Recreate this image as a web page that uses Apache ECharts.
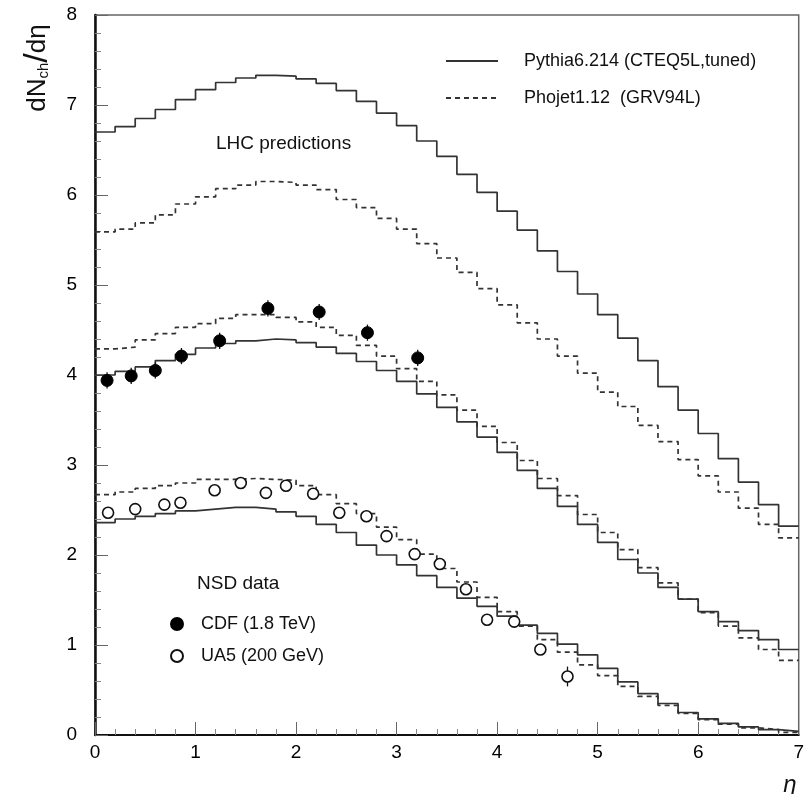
<!DOCTYPE html>
<html>
<head>
<meta charset="utf-8">
<script src="https://cdn.jsdelivr.net/npm/echarts@6/dist/echarts.min.js"></script>
<style>
html,body{margin:0;padding:0;background:#fff;}
#chart{width:807px;height:794px;}
</style>
</head>
<body>
<div id="chart"></div>
<script>
// bin edges in eta (bins of width 0.2)
const etaEdges = [0.0,0.2,0.4,0.6,0.8,1.0,1.2,1.4,1.6,1.8,2.0,2.2,2.4,2.6,2.8,3.0,3.2,3.4,3.6,3.8,4.0,4.2,4.4,4.6,4.8,5.0,5.2,5.4,5.6,5.8,6.0,6.2,6.4,6.6,6.8,7.0];

// LHC predictions
const pythiaLHC = [6.70,6.76,6.85,6.95,7.06,7.17,7.25,7.30,7.33,7.32,
                   7.29,7.24,7.16,7.04,6.91,6.77,6.60,6.43,6.23,6.03,
                   5.82,5.61,5.38,5.15,4.90,4.67,4.41,4.16,3.87,3.61,
                   3.35,3.07,2.81,2.56,2.32];
const phojetLHC = [5.59,5.62,5.69,5.78,5.90,5.98,6.07,6.11,6.15,6.14,
                   6.11,6.06,5.95,5.86,5.74,5.62,5.46,5.30,5.14,4.96,
                   4.78,4.58,4.40,4.21,4.02,3.81,3.65,3.44,3.26,3.06,
                   2.88,2.70,2.52,2.34,2.19];
// Tevatron 1.8 TeV
const pythiaTev = [4.00,4.04,4.09,4.16,4.23,4.30,4.35,4.38,4.40,4.39,
                   4.36,4.31,4.24,4.15,4.05,3.93,3.79,3.64,3.48,3.31,
                   3.14,2.94,2.74,2.54,2.34,2.14,1.95,1.80,1.64,1.51,
                   1.37,1.26,1.16,1.06,0.95];
const phojetTev = [4.29,4.31,4.39,4.46,4.53,4.57,4.63,4.67,4.67,4.64,
                   4.59,4.53,4.44,4.33,4.21,4.07,3.93,3.78,3.61,3.43,
                   3.25,3.05,2.85,2.66,2.45,2.25,2.06,1.86,1.69,1.51,
                   1.36,1.21,1.08,0.95,0.83];
// 200 GeV
const pythia200 = [2.36,2.40,2.43,2.46,2.49,2.51,2.53,2.53,2.51,2.48,
                   2.43,2.34,2.25,2.11,2.00,1.89,1.77,1.64,1.52,1.43,
                   1.32,1.22,1.13,1.01,0.89,0.74,0.59,0.46,0.35,0.25,
                   0.18,0.13,0.09,0.06,0.04];
const phojet200 = [2.67,2.70,2.74,2.77,2.80,2.84,2.84,2.85,2.84,2.83,
                   2.77,2.67,2.57,2.46,2.31,2.17,2.01,1.85,1.70,1.53,
                   1.37,1.21,1.06,0.92,0.78,0.66,0.54,0.43,0.33,0.24,
                   0.17,0.12,0.08,0.06,0.03];

// NSD data
const cdfEta = [0.12,0.36,0.60,0.86,1.24,1.72,2.23,2.71,3.21];
const cdfVal = [3.94,3.99,4.05,4.21,4.38,4.74,4.70,4.47,4.19];
const cdfErr = [0.09,0.09,0.09,0.09,0.09,0.09,0.09,0.09,0.09];

const ua5Eta = [0.13,0.40,0.69,0.85,1.19,1.45,1.70,1.90,2.17,2.43,2.70,2.90,3.18,3.43,3.69,3.90,4.17,4.43,4.70];
const ua5Val = [2.47,2.51,2.56,2.58,2.72,2.80,2.69,2.77,2.68,2.47,2.43,2.21,2.01,1.90,1.62,1.28,1.26,0.95,0.65];
const ua5Err = [0.02,0.02,0.02,0.02,0.02,0.02,0.02,0.02,0.02,0.02,0.03,0.03,0.03,0.03,0.04,0.05,0.06,0.06,0.11];

const xTicks = [0,1,2,3,4,5,6,7];
const yTicks = [0,1,2,3,4,5,6,7,8];

const PYTHIA = 'Pythia6.214 (CTEQ5L,tuned)';
const PHOJET = 'Phojet1.12  (GRV94L)';
const CDF = 'CDF (1.8 TeV)';
const UA5 = 'UA5 (200 GeV)';
const FONT = 'Liberation Sans, Arial, sans-serif';
const LINE = '#333333';

function histo(vals){
  return etaEdges.map((e,i) => [e, vals[Math.min(i, vals.length-1)]]);
}
function errData(xs, vs, es){
  return xs.map((x,i) => [x, vs[i]-es[i], vs[i]+es[i]]);
}
function pts(xs, vs){ return xs.map((x,i) => [x, vs[i]]); }

function histSeries(name, vals, dashed){
  return {
    name: name, type:'line', step:'end', data: histo(vals),
    symbol:'none', showSymbol:false, silent:true, z:2,
    lineStyle:{color:LINE, width:1.7, type: dashed ? [5,4] : 'solid'},
    itemStyle:{color:LINE}
  };
}
function errSeries(data){
  return {
    type:'custom', data:data, z:4, silent:true,
    renderItem:function(params, api){
      const x = api.value(0), lo = api.value(1), hi = api.value(2);
      const p1 = api.coord([x, lo]), p2 = api.coord([x, hi]);
      return {type:'line', shape:{x1:p1[0], y1:p1[1], x2:p2[0], y2:p2[1]},
              style:{stroke:'#111', lineWidth:1.3}};
    }
  };
}

const chart = echarts.init(document.getElementById('chart'), null, {renderer:'canvas'});
const option = {
  animation:false,
  backgroundColor:'#fff',
  grid:{left:95, right:8, top:15, bottom:59, show:true, borderColor:'#666', borderWidth:1.5, backgroundColor:'transparent'},
  xAxis:{
    type:'value', min:xTicks[0], max:xTicks[xTicks.length-1], interval:1,
    axisLine:{lineStyle:{color:'#111', width:2}},
    axisTick:{inside:true, length:13, lineStyle:{color:'#666', width:1}},
    minorTick:{show:true, splitNumber:5, length:6, lineStyle:{color:'#888', width:1}},
    splitLine:{show:false},
    axisLabel:{fontSize:19, color:'#000', margin:8, fontFamily:FONT}
  },
  yAxis:{
    type:'value', min:yTicks[0], max:yTicks[yTicks.length-1], interval:1,
    axisLine:{lineStyle:{color:'#111', width:2.5}},
    axisTick:{inside:true, length:13, lineStyle:{color:'#666', width:1}},
    minorTick:{show:true, splitNumber:5, length:6, lineStyle:{color:'#888', width:1}},
    splitLine:{show:false},
    axisLabel:{fontSize:19, color:'#000', margin:18, fontFamily:FONT}
  },
  legend:[
    {
      data:[PYTHIA, PHOJET], orient:'vertical', left:440, top:47,
      itemWidth:52, itemHeight:14, itemGap:19, selectedMode:false,
      itemStyle:{color:'transparent', borderColor:'transparent', borderWidth:0, opacity:0},
      textStyle:{fontSize:18, color:'#111', fontFamily:FONT, padding:[0,0,0,21]}
    },
    {
      data:[CDF, UA5], orient:'vertical', left:165, top:610,
      itemWidth:12, itemHeight:12, itemGap:14, selectedMode:false,
      icon:'circle',
      textStyle:{fontSize:18, color:'#111', fontFamily:FONT, padding:[0,0,0,13]}
    }
  ],
  graphic:[
    {type:'text', left:216, top:134, silent:true,
     style:{text:'LHC predictions', fontSize:19, fill:'#111', fontFamily:FONT}},
    {type:'text', left:197, top:574, silent:true,
     style:{text:'NSD data', fontSize:19, fill:'#111', fontFamily:FONT}},
    {type:'text', x:38, y:68, rotation:Math.PI/2, silent:true,
     style:{text:'dN{sub|ch}{sl|/}dη', align:'center', verticalAlign:'middle',
            fontSize:26, fill:'#111', fontFamily:FONT,
            rich:{sub:{fontSize:15, fill:'#111', fontFamily:FONT, padding:[11,0,0,0]},
                  sl:{fontSize:34, fill:'#111', fontFamily:FONT}}}},
    {type:'text', x:790, y:785, silent:true,
     style:{text:'η', align:'center', verticalAlign:'middle', fontSize:24, fontStyle:'italic', fill:'#111', fontFamily:FONT}}
  ],
  series:[
    histSeries(PYTHIA, pythiaLHC, false),
    histSeries(PHOJET, phojetLHC, true),
    histSeries(PYTHIA, pythiaTev, false),
    histSeries(PHOJET, phojetTev, true),
    histSeries(PYTHIA, pythia200, false),
    histSeries(PHOJET, phojet200, true),
    errSeries(errData(cdfEta, cdfVal, cdfErr)),
    errSeries(errData(ua5Eta, ua5Val, ua5Err)),
    {name:CDF, type:'scatter', data:pts(cdfEta, cdfVal), symbol:'circle', symbolSize:12, z:5, silent:true,
     itemStyle:{color:'#000', borderColor:'#000', borderWidth:1, opacity:1}},
    {name:UA5, type:'scatter', data:pts(ua5Eta, ua5Val), symbol:'circle', symbolSize:11, z:5, silent:true,
     itemStyle:{color:'#fff', borderColor:'#111', borderWidth:1.6, opacity:1}}
  ]
};
chart.setOption(option);
</script>
</body>
</html>
